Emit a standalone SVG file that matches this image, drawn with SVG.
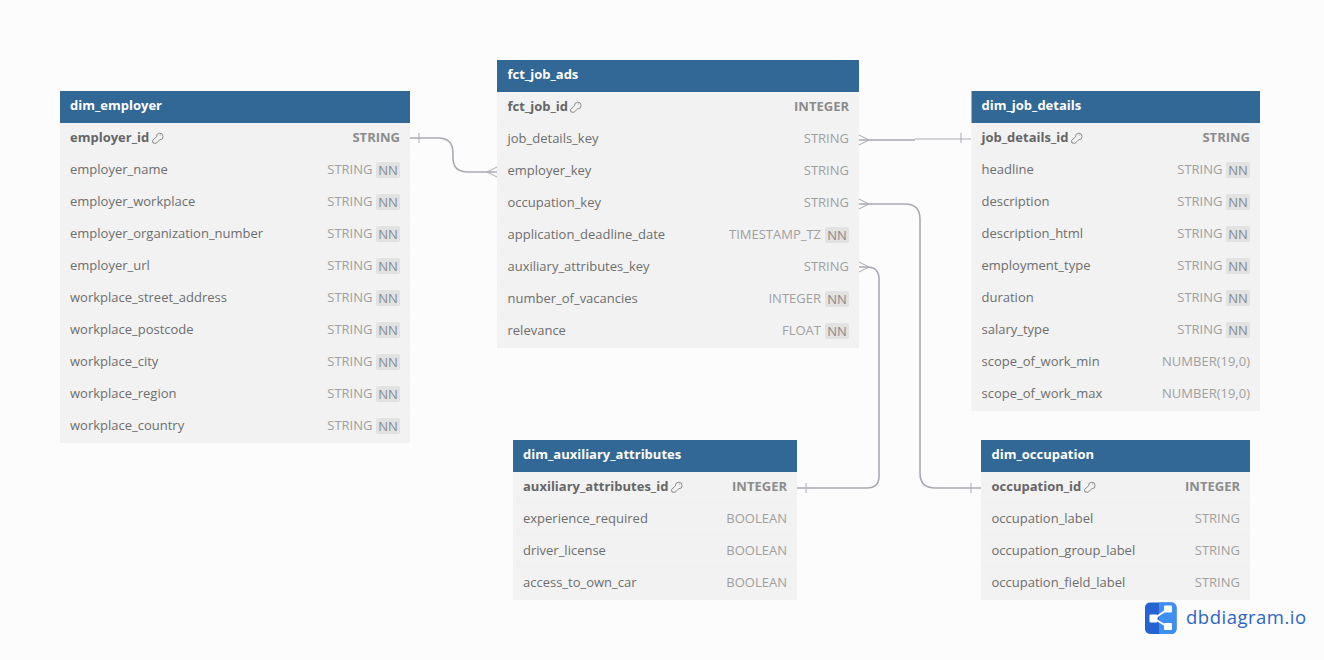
<svg xmlns="http://www.w3.org/2000/svg" width="1324" height="660" viewBox="0 0 1324 660">
<style>
text{font-family:"Open Sans","Noto Sans","Liberation Sans",sans-serif;font-size:13px}
.bg{fill:#f2f2f2}.hd{fill:#316896}.sep{stroke:#f0f0f0;stroke-width:1;fill:none}
.t{fill:#fff;font-weight:700}
.n{fill:#6e6e6e}.k{fill:#666;font-weight:700}
.ty{fill:#a0a0a0;text-anchor:end}.tk{fill:#8c8c8c;font-weight:700;text-anchor:end}
.b{fill:#e2e2e2}.nn{fill:#8a8a8a;text-anchor:middle}
.key{fill:none;stroke:#808080;stroke-width:.9;stroke-linejoin:round}
.c{fill:none;stroke:#a9a9b2;stroke-width:1.6}
.c1{fill:none;stroke:#a9a9b2;stroke-width:1}
.m{fill:none;stroke:#a9a9b2;stroke-width:1}
</style>
<defs>
<g id="nn"><rect class="b" x="-24" y="-8" width="24" height="16" rx="2"/><text class="nn" x="-12" y="4.500">NN</text></g>
<path id="key" class="key" d="M-5 5L-5.500 2.500L-1.500 -1.200A3.300 3.300 0 1 1 1.800 1.800L-2 5.300ZM1.800-3h.8"/>
</defs>
<rect width="1324" height="660" fill="#fcfcfc"/>
<g id="connectors">
<path class="c" d="M410 138H438Q453 138 453 153V158Q453 172 468 172H497"/>
<path class="m" d="M419 133V143M487 172L497 167M487 172L497 177"/>
<path class="c" d="M859 140H915"/><path class="c1" d="M915 139H971"/>
<path class="m" d="M961 133V143M869 140L859 135M869 140L859 145"/>
<path class="c" d="M859 204H905Q920 204 920 219V473Q920 488 935 488H981"/>
<path class="m" d="M971 483V493M869 204L859 199M869 204L859 209"/>
<path class="c" d="M859 267H867Q879 267 879 279V476Q879 488 867 488H797"/>
<path class="m" d="M806 483V493M869 267L859 262M869 267L859 272"/>
</g>
<g id="dim_employer">
<rect class="bg" x="60" y="123" width="350" height="320"/><rect class="hd" x="60" y="91" width="350" height="32"/>
<path class="sep" d="M60 154.500H410M60 186.500H410M60 218.500H410M60 250.500H410M60 282.500H410M60 314.500H410M60 346.500H410M60 378.500H410M60 410.500H410"/>
<text class="t" x="70" y="110">dim_employer</text>
<text class="k" x="70" y="142">employer_id</text><use href="#key" x="158" y="138"/><text class="tk" x="400" y="142">STRING</text>
<text class="n" x="70" y="174">employer_name</text><text class="ty" x="372.500" y="174">STRING</text><use href="#nn" x="400" y="170"/>
<text class="n" x="70" y="206">employer_workplace</text><text class="ty" x="372.500" y="206">STRING</text><use href="#nn" x="400" y="202"/>
<text class="n" x="70" y="238">employer_organization_number</text><text class="ty" x="372.500" y="238">STRING</text><use href="#nn" x="400" y="234"/>
<text class="n" x="70" y="270">employer_url</text><text class="ty" x="372.500" y="270">STRING</text><use href="#nn" x="400" y="266"/>
<text class="n" x="70" y="302">workplace_street_address</text><text class="ty" x="372.500" y="302">STRING</text><use href="#nn" x="400" y="298"/>
<text class="n" x="70" y="334">workplace_postcode</text><text class="ty" x="372.500" y="334">STRING</text><use href="#nn" x="400" y="330"/>
<text class="n" x="70" y="366">workplace_city</text><text class="ty" x="372.500" y="366">STRING</text><use href="#nn" x="400" y="362"/>
<text class="n" x="70" y="398">workplace_region</text><text class="ty" x="372.500" y="398">STRING</text><use href="#nn" x="400" y="394"/>
<text class="n" x="70" y="430">workplace_country</text><text class="ty" x="372.500" y="430">STRING</text><use href="#nn" x="400" y="426"/>
</g>
<g id="fct_job_ads">
<rect class="bg" x="497" y="92" width="362" height="256"/><rect class="hd" x="497" y="60" width="362" height="32"/>
<path class="sep" d="M497 123.500H859M497 155.500H859M497 187.500H859M497 219.500H859M497 251.500H859M497 283.500H859M497 315.500H859"/>
<text class="t" x="507.500" y="79">fct_job_ads</text>
<text class="k" x="507.500" y="111">fct_job_id</text><use href="#key" x="576" y="107"/><text class="tk" x="849" y="111">INTEGER</text>
<text class="n" x="507.500" y="143">job_details_key</text><text class="ty" x="849" y="143">STRING</text>
<text class="n" x="507.500" y="175">employer_key</text><text class="ty" x="849" y="175">STRING</text>
<text class="n" x="507.500" y="207">occupation_key</text><text class="ty" x="849" y="207">STRING</text>
<text class="n" x="507.500" y="239">application_deadline_date</text><text class="ty" x="821" y="239">TIMESTAMP_TZ</text><use href="#nn" x="849" y="235"/>
<text class="n" x="507.500" y="271">auxiliary_attributes_key</text><text class="ty" x="849" y="271">STRING</text>
<text class="n" x="507.500" y="303">number_of_vacancies</text><text class="ty" x="821" y="303">INTEGER</text><use href="#nn" x="849" y="299"/>
<text class="n" x="507.500" y="335">relevance</text><text class="ty" x="821" y="335">FLOAT</text><use href="#nn" x="849" y="331"/>
</g>
<g id="dim_job_details">
<rect class="bg" x="971.500" y="123" width="288.500" height="288"/><rect class="hd" x="971.500" y="91" width="288.500" height="32"/>
<path class="sep" d="M972 154.500H1260M972 186.500H1260M972 218.500H1260M972 250.500H1260M972 282.500H1260M972 314.500H1260M972 346.500H1260M972 378.500H1260"/>
<text class="t" x="981.500" y="110">dim_job_details</text>
<text class="k" x="981.500" y="142">job_details_id</text><use href="#key" x="1077" y="138"/><text class="tk" x="1250" y="142">STRING</text>
<text class="n" x="981.500" y="174">headline</text><text class="ty" x="1222.500" y="174">STRING</text><use href="#nn" x="1250" y="170"/>
<text class="n" x="981.500" y="206">description</text><text class="ty" x="1222.500" y="206">STRING</text><use href="#nn" x="1250" y="202"/>
<text class="n" x="981.500" y="238">description_html</text><text class="ty" x="1222.500" y="238">STRING</text><use href="#nn" x="1250" y="234"/>
<text class="n" x="981.500" y="270">employment_type</text><text class="ty" x="1222.500" y="270">STRING</text><use href="#nn" x="1250" y="266"/>
<text class="n" x="981.500" y="302">duration</text><text class="ty" x="1222.500" y="302">STRING</text><use href="#nn" x="1250" y="298"/>
<text class="n" x="981.500" y="334">salary_type</text><text class="ty" x="1222.500" y="334">STRING</text><use href="#nn" x="1250" y="330"/>
<text class="n" x="981.500" y="366">scope_of_work_min</text><text class="ty" x="1250" y="366">NUMBER(19,0)</text>
<text class="n" x="981.500" y="398">scope_of_work_max</text><text class="ty" x="1250" y="398">NUMBER(19,0)</text>
</g>
<g id="dim_auxiliary_attributes">
<rect class="bg" x="513" y="472" width="284" height="128"/><rect class="hd" x="513" y="440" width="284" height="32"/>
<path class="sep" d="M513 503.500H797M513 535.500H797M513 567.500H797"/>
<text class="t" x="523" y="459">dim_auxiliary_attributes</text>
<text class="k" x="523" y="491">auxiliary_attributes_id</text><use href="#key" x="677" y="487"/><text class="tk" x="787" y="491">INTEGER</text>
<text class="n" x="523" y="523">experience_required</text><text class="ty" x="787" y="523">BOOLEAN</text>
<text class="n" x="523" y="555">driver_license</text><text class="ty" x="787" y="555">BOOLEAN</text>
<text class="n" x="523" y="587">access_to_own_car</text><text class="ty" x="787" y="587">BOOLEAN</text>
</g>
<g id="dim_occupation">
<rect class="bg" x="981" y="472" width="269" height="128"/><rect class="hd" x="981" y="440" width="269" height="32"/>
<path class="sep" d="M981 503.500H1250M981 535.500H1250M981 567.500H1250"/>
<text class="t" x="991.500" y="459">dim_occupation</text>
<text class="k" x="991.500" y="491">occupation_id</text><use href="#key" x="1090" y="487"/><text class="tk" x="1240" y="491">INTEGER</text>
<text class="n" x="991.500" y="523">occupation_label</text><text class="ty" x="1240" y="523">STRING</text>
<text class="n" x="991.500" y="555">occupation_group_label</text><text class="ty" x="1240" y="555">STRING</text>
<text class="n" x="991.500" y="587">occupation_field_label</text><text class="ty" x="1240" y="587">STRING</text>
</g>
<g id="logo">
<rect x="1145" y="602.500" width="31.500" height="31.500" rx="5" fill="#2563d0"/>
<path d="M1159 602.500h12.500a5 5 0 0 1 5 5v21.500a5 5 0 0 1-5 5h-12.500z" fill="#3f8ef2"/>
<path d="M1154 618.500L1168 609M1154 618.500L1168 627" stroke="#fff" stroke-width="2" fill="none"/>
<rect x="1149.500" y="614.500" width="8" height="8" rx="1" fill="#fff"/><rect x="1164" y="605.500" width="8" height="7" rx="1" fill="#fff"/><rect x="1164" y="623" width="8" height="7" rx="1" fill="#fff"/>
<text x="1186" y="624" style="font-size:18.500px;letter-spacing:.5px" fill="#2d64c4">dbdiagram.io</text>
</g>
</svg>
